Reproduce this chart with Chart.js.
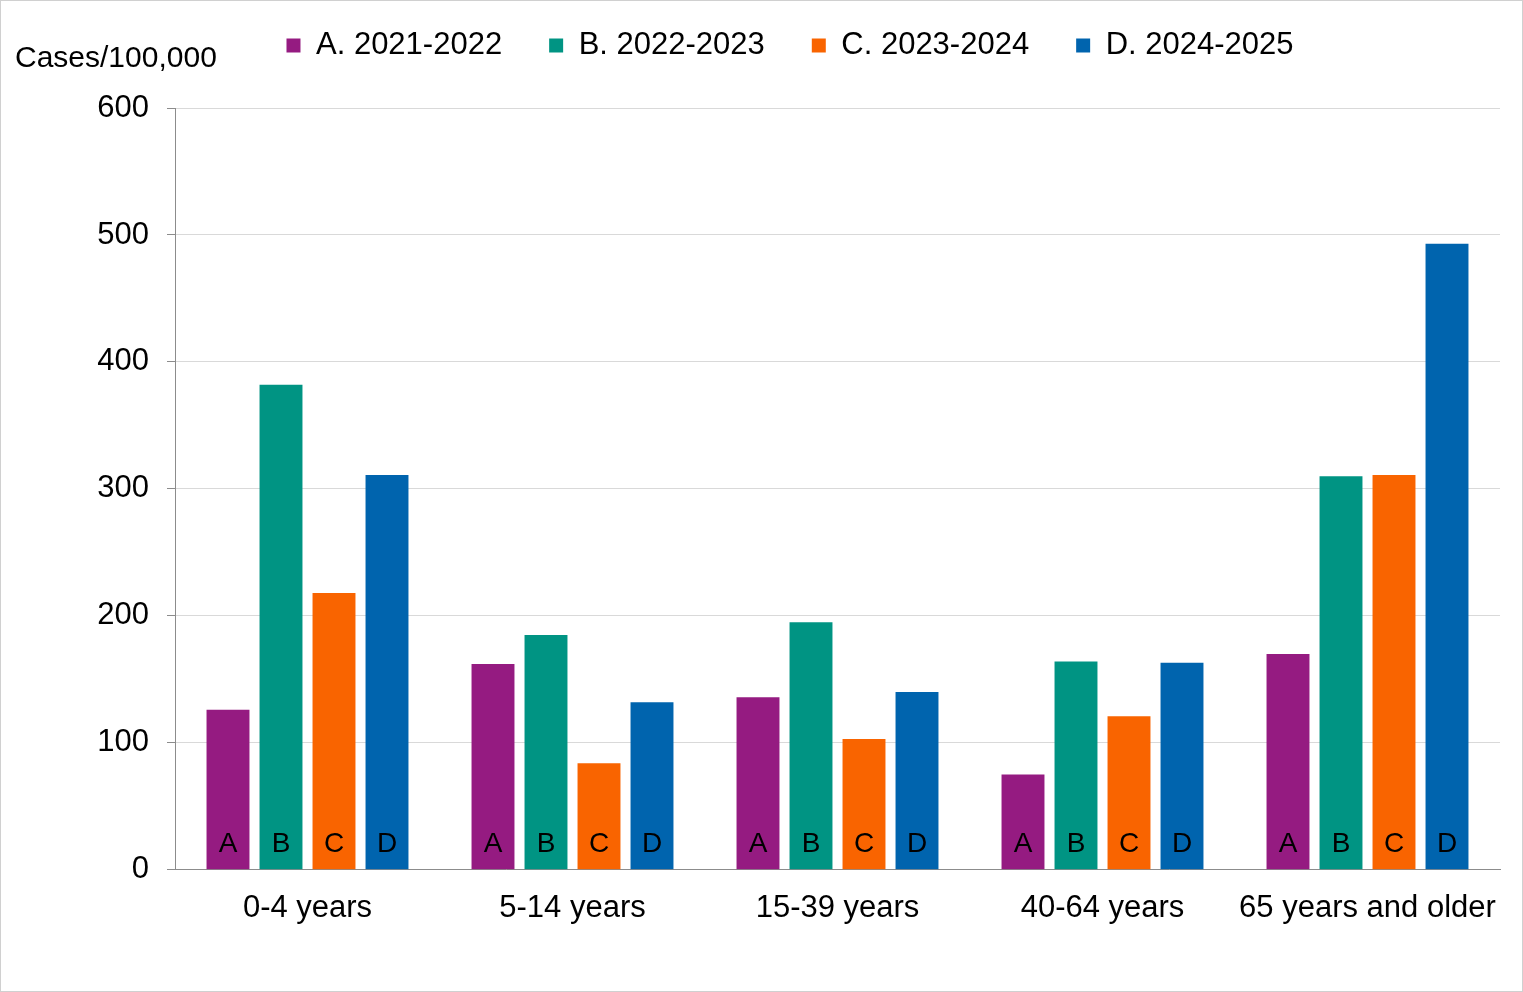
<!DOCTYPE html>
<html>
<head>
<meta charset="utf-8">
<script src="https://cdn.jsdelivr.net/npm/chart.js@4/dist/chart.umd.min.js"></script>
<style>
html,body{margin:0;padding:0;background:#fff;}
#wrap{width:1523px;height:992px;position:relative;}
</style>
</head>
<body>
<div id="wrap"><canvas id="c"></canvas></div>
<script>
const categories = ["0-4 years", "5-14 years", "15-39 years", "40-64 years", "65 years and older"];
const seriesNames = ["A. 2021-2022", "B. 2022-2023", "C. 2023-2024", "D. 2024-2025"];
const seriesLetters = ["A", "B", "C", "D"];
const seriesA = [126, 162, 136, 75, 170];
const seriesB = [382, 185, 195, 164, 310];
const seriesC = [218, 84, 103, 121, 311];
const seriesD = [311, 132, 140, 163, 493];
const yTicks = [0, 100, 200, 300, 400, 500, 600];
const yTitle = "Cases/100,000";
const colors = ["#951b81", "#009483", "#f96400", "#0064ae"];

const FONT = "'Liberation Sans', Arial, sans-serif";
const allSeries = [seriesA, seriesB, seriesC, seriesD];

const letterPlugin = {
  id: 'letters',
  afterDatasetsDraw(chart) {
    const ctx = chart.ctx;
    ctx.save();
    ctx.font = "28px " + FONT;
    ctx.fillStyle = "#000";
    ctx.textAlign = "center";
    ctx.textBaseline = "middle";
    chart.data.datasets.forEach((ds, i) => {
      const meta = chart.getDatasetMeta(i);
      meta.data.forEach(el => {
        ctx.fillText(seriesLetters[i], el.x, el.base - 25);
      });
    });
    ctx.restore();
  }
};
const legendSpacer = {
  id: 'legendSpacer',
  beforeLayout(chart) {
    const lg = chart.legend;
    if (lg && !lg._spaced) {
      const orig = lg.fit;
      lg.fit = function () { orig.call(this); this.height += 37; };
      lg._spaced = true;
    }
  }
};
const framePlugin = {
  id: 'frame',
  afterDraw(chart) {
    const ctx = chart.ctx;
    ctx.save();
    ctx.strokeStyle = "#d0d0d0";
    ctx.lineWidth = 1;
    ctx.strokeRect(0.5, 0.5, chart.width - 1, chart.height - 1);
    ctx.font = "30px " + FONT;
    ctx.fillStyle = "#000";
    ctx.textAlign = "left";
    ctx.textBaseline = "middle";
    ctx.fillText(yTitle, 15, 59);
    ctx.restore();
  }
};

new Chart(document.getElementById('c'), {
  type: 'bar',
  data: {
    labels: categories,
    datasets: allSeries.map((d, i) => ({
      label: seriesNames[i],
      data: d,
      backgroundColor: colors[i],
      borderWidth: 0,
      categoryPercentage: 0.8,
      barPercentage: 0.81
    }))
  },
  options: {
    responsive: true,
    maintainAspectRatio: false,
    animation: false,
    devicePixelRatio: 1,
    layout: { padding: { left: 80, right: 23, top: -17, bottom: 45 } },
    plugins: {
      legend: {
        position: 'top',
        align: 'center',
        labels: {
          font: { family: FONT, size: 31 },
          color: "#000",
          boxWidth: 14,
          boxHeight: 14,
          padding: 47
        }
      },
      tooltip: { enabled: false }
    },
    scales: {
      x: {
        grid: { display: false, drawTicks: false },
        border: { color: "#8c8c8c", width: 1 },
        ticks: { font: { family: FONT, size: 31 }, color: "#000", padding: 20, maxRotation: 0 }
      },
      y: {
        min: 0, max: 600,
        afterBuildTicks(scale) { scale.ticks = yTicks.map(v => ({ value: v })); },
        afterFit(scale) { scale.width = 95; },
        grid: { color: "#d9d9d9", tickColor: "#8c8c8c", tickLength: 8 },
        border: { color: "#8c8c8c", width: 1 },
        ticks: { font: { family: FONT, size: 31 }, color: "#000", padding: 18 }
      }
    }
  },
  plugins: [legendSpacer, letterPlugin, framePlugin]
});
</script>
</body>
</html>
